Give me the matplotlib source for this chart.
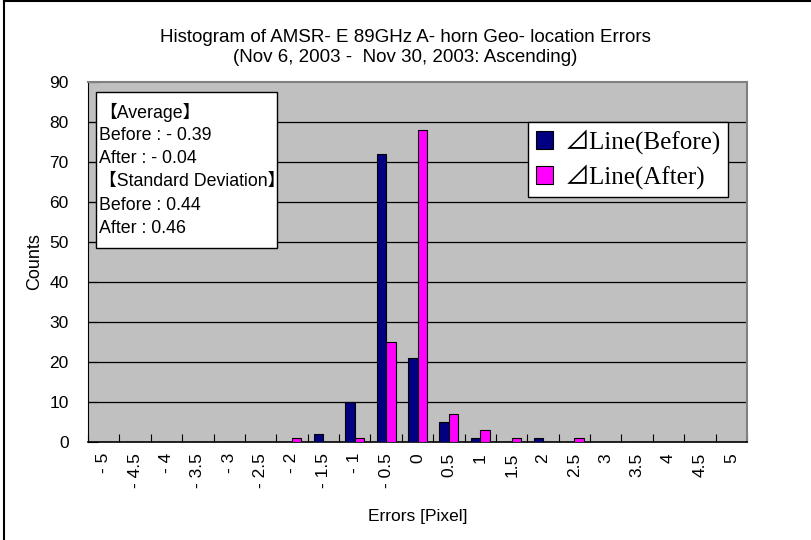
import matplotlib
matplotlib.use("Agg")
import matplotlib.pyplot as plt
from matplotlib.patches import Rectangle
from matplotlib.lines import Line2D
import numpy as np

# histogram bins (pixel error) and counts
bins = [-5, -4.5, -4, -3.5, -3, -2.5, -2, -1.5, -1, -0.5, 0,
        0.5, 1, 1.5, 2, 2.5, 3, 3.5, 4, 4.5, 5]
bin_labels = ["- 5", "- 4.5", "- 4", "- 3.5", "- 3", "- 2.5", "- 2", "- 1.5",
              "- 1", "- 0.5", "0", "0.5", "1", "1.5", "2", "2.5", "3",
              "3.5", "4", "4.5", "5"]
before = [0, 0, 0, 0, 0, 0, 0, 2, 10, 72, 21, 5, 1, 0, 1, 0, 0, 0, 0, 0, 0]
after = [0, 0, 0, 0, 0, 0, 1, 0, 1, 25, 78, 7, 3, 1, 0, 1, 0, 0, 0, 0, 0]
y_ticks = [0, 10, 20, 30, 40, 50, 60, 70, 80, 90]
stats_lines = ["【Average】", "Before : - 0.39", "After : - 0.04",
               "【Standard Deviation】", "Before : 0.44", "After : 0.46"]

W, H = 811, 540
sans = ["Liberation Sans", "Noto Sans CJK JP", "DejaVu Sans"]
plt.rcParams["font.family"] = sans


def fx(x):
    return x / W


def fy(y):
    return 1 - y / H


fig = plt.figure(figsize=(W / 100, H / 100), dpi=100)
fig.patch.set_facecolor("white")

# plot area in pixels: left 88, top 82, right 747, bottom 442
ax = fig.add_axes([fx(88), fy(442), fx(747 - 88), (442 - 82) / H])
ax.set_facecolor("#C0C0C0")

x = np.arange(len(bins))
w = 0.3
ax.bar(x - w / 2, before, width=w, color="#000080", edgecolor="black",
       linewidth=0.8, label="⊿Line(Before)", zorder=3)
ax.bar(x + w / 2, after, width=w, color="#FF00FF", edgecolor="black",
       linewidth=0.8, label="⊿Line(After)", zorder=3)

ax.set_xlim(-0.5, len(bins) - 0.5)
ax.set_ylim(0, 90)

# category boundaries get the tick marks, centers get the labels
ax.set_xticks(np.arange(len(bins) + 1) - 0.5)
ax.set_xticklabels([])
ax.set_xticks(x, minor=True)
ax.set_xticklabels(bin_labels, minor=True, rotation=90, fontsize=12.5)
ax.tick_params(axis="x", which="major", direction="in", length=6, width=0.8)
ax.tick_params(axis="x", which="minor", length=0, pad=8)

ax.set_yticks(y_ticks)
ax.set_yticklabels([str(v) for v in y_ticks], fontsize=12.5)
ax.tick_params(axis="y", direction="in", length=7, width=0.8, pad=14)

for v in y_ticks[1:-1]:
    ax.axhline(v, color="black", linewidth=0.9, zorder=1)

ax.spines["left"].set_color("black")
ax.spines["bottom"].set_color("black")
ax.spines["bottom"].set_linewidth(1.2)
ax.spines["top"].set_color("#808080")
ax.spines["right"].set_color("#808080")
ax.spines["top"].set_linewidth(1.5)
ax.spines["right"].set_linewidth(1.5)

fig.text(fx(405), fy(37), "Histogram of AMSR- E 89GHz A- horn Geo- location Errors",
         ha="center", va="center", fontsize=13.5)
fig.text(fx(405), fy(58), "(Nov 6, 2003 -  Nov 30, 2003: Ascending)",
         ha="center", va="center", fontsize=13.5)
fig.text(fx(418), fy(517), "Errors [Pixel]", ha="center", va="center",
         fontsize=12.5)
fig.text(fx(35), fy(262), "Counts", ha="center", va="center", rotation=90,
         fontsize=13)

# statistics box
fig.patches.append(Rectangle((fx(96), fy(248)), fx(277 - 96), (248 - 92) / H,
                             transform=fig.transFigure, facecolor="white",
                             edgecolor="black", linewidth=1, zorder=5))
for i, line in enumerate(stats_lines):
    fig.text(fx(99), fy(112 + i * 23.3), line, ha="left", va="center",
             fontsize=12.8, zorder=6)

leg = ax.legend(loc="upper left", bbox_to_anchor=(fx(528), fy(122)),
                bbox_transform=fig.transFigure, frameon=True, fancybox=False,
                prop={"family": ["Liberation Serif", "Noto Sans CJK JP"],
                      "size": 18},
                handlelength=0.7, handleheight=0.7, handletextpad=0.45,
                borderpad=0.3, labelspacing=0.4, borderaxespad=0)
leg.get_frame().set_edgecolor("black")
leg.get_frame().set_linewidth(1)
leg.get_frame().set_alpha(1)
leg.set_zorder(6)

# outer chart border (only top and left visible in the crop)
fig.lines.append(Line2D([fx(4), fx(4)], [0, fy(1)], transform=fig.transFigure,
                        color="black", linewidth=1.5))
fig.lines.append(Line2D([fx(4), 1], [fy(1), fy(1)], transform=fig.transFigure,
                        color="black", linewidth=1.5))

fig.savefig("out.png", dpi=100)
